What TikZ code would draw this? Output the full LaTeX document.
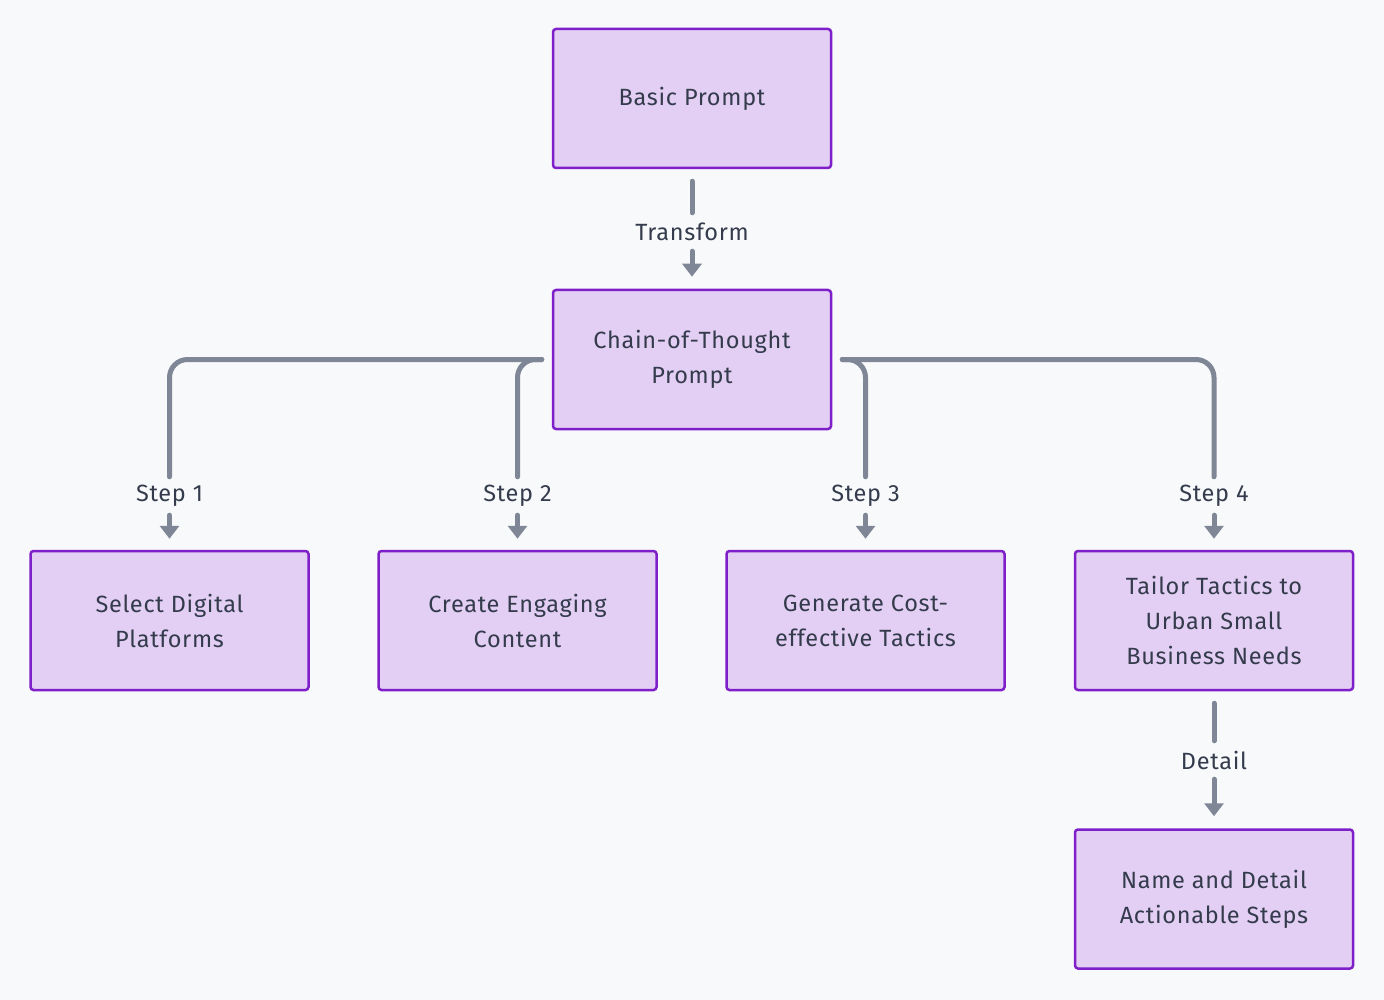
\documentclass[tikz,border=0pt]{standalone}
\usepackage{fontspec}
\setmainfont{Fira Sans}[LetterSpace=3]
\usetikzlibrary{arrows.meta}
\definecolor{bg}{HTML}{F8F9FB}
\definecolor{boxfill}{HTML}{E4CFF4}
\definecolor{boxline}{HTML}{7E1FC9}
\definecolor{conn}{HTML}{7F8797}
\definecolor{txt}{HTML}{333B4C}
\tikzset{
  x=1pt,y=-1pt,
  stepbox/.style={draw=boxline,fill=boxfill,line width=2.5pt,rounded corners=3pt,
    minimum width=278pt,minimum height=139pt,align=center,text=txt,
    font=\fontsize{23.5}{35}\selectfont,inner sep=0pt},
  elabel/.style={fill=bg,text=txt,font=\fontsize{23.5}{25}\selectfont,minimum height=38pt,inner sep=0pt},
  line/.style={draw=conn,line width=5pt,line cap=round,rounded corners=18pt},
  arr/.style={line,-{Triangle[width=19pt,length=13pt]}},
}
\begin{document}
\begin{tikzpicture}
\fill[bg] (0,0) rectangle (1384,1000);
\useasboundingbox (0,0) rectangle (1384,1000);
\node[stepbox] (basic) at (692,98.5) {Basic Prompt};
\node[stepbox] (chain) at (692,359.5) {Chain-of-Thought\\Prompt};
\node[stepbox] (s1) at (169.5,620.5) {Select Digital\\Platforms};
\node[stepbox] (s2) at (517.5,620.5) {Create Engaging\\Content};
\node[stepbox] (s3) at (865.5,620.5) {Generate Cost-\\effective Tactics};
\node[stepbox] (s4) at (1214,620.5) {Tailor Tactics to\\Urban Small\\Business Needs};
\node[stepbox] (s5) at (1214,899) {Name and Detail\\Actionable Steps};

\node[elabel] (lt) at (692,232) {Transform};
\node[elabel] (l1) at (169.5,496) {Step 1};
\node[elabel] (l2) at (517.5,496) {Step 2};
\node[elabel] (l3) at (865.5,496) {Step 3};
\node[elabel] (l4) at (1214,496) {Step 4};
\node[elabel] (ld) at (1214,760) {Detail};

\draw[line,shorten <=12pt] (basic) -- (lt);
\draw[arr,shorten >=12pt] (lt) -- (basic |- chain.north);
\draw[line,shorten <=10pt] (chain.west) -| (l1);
\draw[line,shorten <=10pt] (chain.west) -| (l2);
\draw[line,shorten <=10pt] (chain.east) -| (l3);
\draw[line,shorten <=10pt] (chain.east) -| (l4);
\draw[arr,shorten >=11pt] (l1) -- (s1);
\draw[arr,shorten >=11pt] (l2) -- (s2);
\draw[arr,shorten >=11pt] (l3) -- (s3);
\draw[arr,shorten >=11pt] (l4) -- (s4);
\draw[line,shorten <=12pt] (s4) -- (ld);
\draw[arr,shorten >=12pt] (ld) -- (s5);
\end{tikzpicture}
\end{document}
